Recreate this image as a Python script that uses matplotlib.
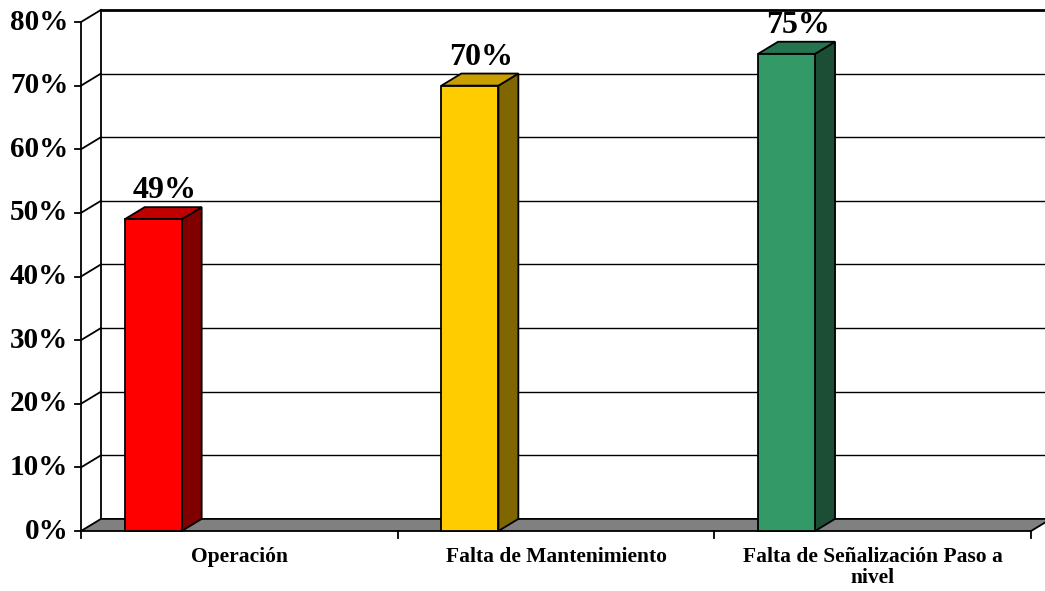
import numpy as np
import matplotlib.pyplot as plt
from matplotlib.patches import Polygon

categories = ["Operación", "Falta de Mantenimiento", "Falta de Señalización Paso a\nnivel"]
values = [49, 70, 75]
labels = ["49%", "70%", "75%"]
ticks = [0, 10, 20, 30, 40, 50, 60, 70, 80]
tick_labels = ["0%", "10%", "20%", "30%", "40%", "50%", "60%", "70%", "80%"]

front_cols = ["#FF0000", "#FFCC00", "#339966"]
top_cols = ["#C00000", "#C89E00", "#267350"]
side_cols = ["#800000", "#806600", "#1C4D35"]

plt.rcParams['font.family'] = ['Liberation Serif', 'DejaVu Serif']

fig = plt.figure(figsize=(10.45, 5.91), dpi=100)
ax = fig.add_axes([0, 0, 1, 1])
ax.set_xlim(-0.7558, 2.544)
ax.set_ylim(-9.43, 83.46)
ax.axis('off')

# 3d depth offset
dx = 0.063
dy = 1.9
x0, x1 = -0.5, len(categories) - 0.5
ymax = ticks[-1]

# back wall gridlines and connectors
for t in ticks[1:]:
    lw = 2 if t == ymax else 1
    ax.plot([x0 + dx, 2.6], [t + dy, t + dy], color='black', lw=lw, zorder=1)
    ax.plot([x0, x0 + dx], [t, t + dy], color='black', lw=1.3, zorder=1)
ax.plot([x0 + dx, x0 + dx], [dy, ymax + dy], color='black', lw=1.3, zorder=1)

# floor
floor = Polygon([[x0, 0], [x1, 0], [x1 + dx, dy], [x0 + dx, dy]],
                closed=True, facecolor='#808080', edgecolor='black', lw=1.3, zorder=2)
ax.add_patch(floor)

# front value axis
ax.plot([x0, x0], [0, ymax], color='black', lw=1.3, zorder=3)
for t, tl in zip(ticks, tick_labels):
    ax.plot([x0 - 0.02, x0], [t, t], color='black', lw=1.3, zorder=3)
    ax.text(x0 - 0.04, t, tl, ha='right', va='center', fontsize=21,
            fontweight='bold')

# category ticks
for b in np.arange(x0, x1 + 0.01, 1):
    ax.plot([b, b], [0, -1.1], color='black', lw=1.3, zorder=3)

# bars
bw = 0.18
off = -0.362
for i, v in enumerate(values):
    l = i + off
    r = l + bw
    front = Polygon([[l, 0], [r, 0], [r, v], [l, v]], closed=True,
                    facecolor=front_cols[i], edgecolor='black', lw=1.3, zorder=5)
    side = Polygon([[r, 0], [r + dx, dy], [r + dx, v + dy], [r, v]], closed=True,
                   facecolor=side_cols[i], edgecolor='black', lw=1.3, zorder=4)
    top = Polygon([[l, v], [r, v], [r + dx, v + dy], [l + dx, v + dy]], closed=True,
                  facecolor=top_cols[i], edgecolor='black', lw=1.3, zorder=4)
    ax.add_patch(side)
    ax.add_patch(top)
    ax.add_patch(front)
    ax.text(l + (bw + dx) / 2 + 0.005, v + 3.3, labels[i], ha='center',
            va='baseline', fontsize=23, fontweight='bold', zorder=6)

# category labels
for i, c in enumerate(categories):
    ax.text(i, -2.5, c, ha='center', va='top', fontsize=15.5,
            fontweight='bold', linespacing=1.05)

fig.savefig('out.png', dpi=100)
